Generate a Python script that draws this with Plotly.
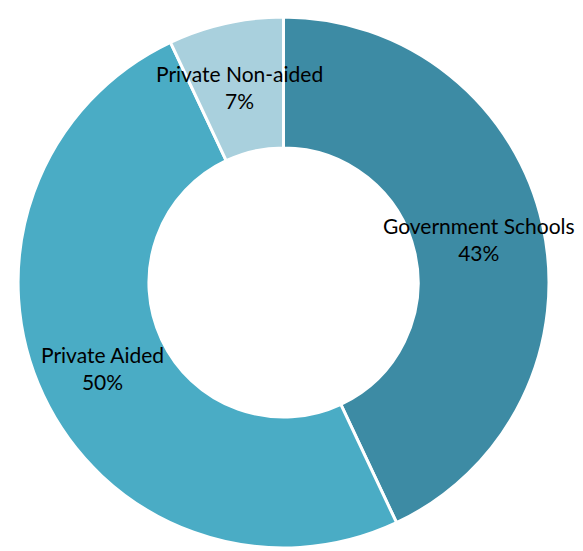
import math
import plotly.graph_objects as go

labels = ["Government Schools", "Private Aided", "Private Non-aided"]
values = [43, 50, 7]
colors = ["#3d8ba4", "#4aacc5", "#a9d0dd"]

# plot area (the page body adds an 8px offset)
W, H = 531, 531
ML, MT = 10, 9
MR = 583 - ML - W
MB = 551 - MT - H

fig = go.Figure(go.Pie(
    labels=labels,
    values=values,
    hole=0.507,
    sort=False,
    direction="clockwise",
    rotation=0,
    marker=dict(colors=colors, line=dict(color="white", width=3)),
    textinfo="none",
    showlegend=False,
    hoverinfo="label+percent",
))

# data labels placed at the middle of each ring segment, derived from the values
total = sum(values)
R = min(W, H) / 2
label_r = 0.755 * R
cum = 0
for lab, v in zip(labels, values):
    mid = (cum + v / 2) / total * 2 * math.pi
    cum += v
    x = 0.5 + label_r * math.sin(mid) / W
    y = 0.5 + label_r * math.cos(mid) / H
    fig.add_annotation(
        x=x, y=y, xref="paper", yref="paper",
        text=f"{lab}<br>{round(v / total * 100)}%",
        showarrow=False,
        font=dict(family="Lato", size=21, color="black"),
        align="center",
        xanchor="center", yanchor="middle",
    )

fig.update_layout(
    width=583, height=551,
    margin=dict(l=ML, r=MR, t=MT, b=MB),
    paper_bgcolor="white",
    plot_bgcolor="white",
)

fig.write_html("out.html")
